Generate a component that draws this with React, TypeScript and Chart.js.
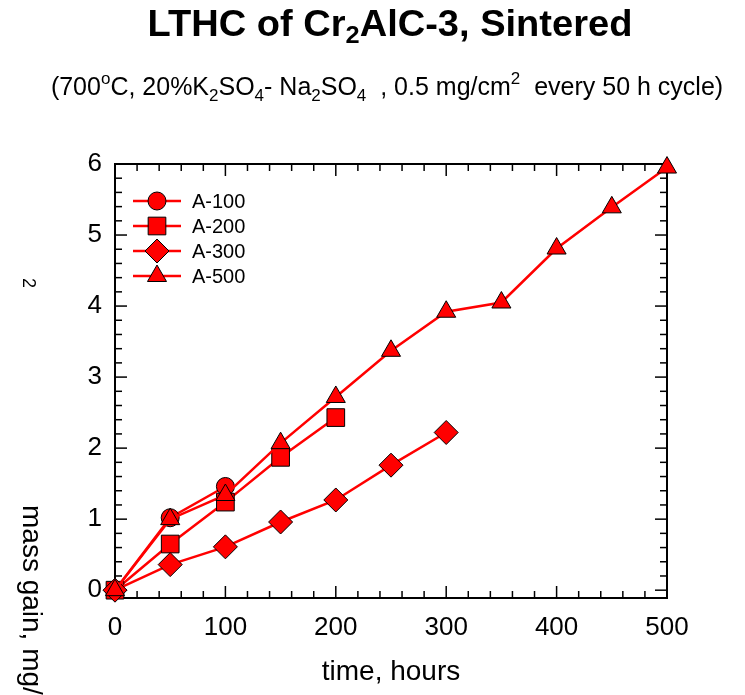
import React, { useEffect, useRef } from 'react';
import { Chart, registerables } from 'chart.js';

Chart.register(...registerables);

// ---- data ----
const seriesLabels = ['A-100', 'A-200', 'A-300', 'A-500'];
const timeA100 = [0, 50, 100];
const massA100 = [0, 1.02, 1.46];
const timeA200 = [0, 50, 100, 150, 200];
const massA200 = [0, 0.65, 1.24, 1.87, 2.43];
const timeA300 = [0, 50, 100, 150, 200, 250, 300];
const massA300 = [0, 0.36, 0.61, 0.96, 1.27, 1.76, 2.22];
const timeA500 = [0, 50, 100, 150, 200, 250, 300, 350, 400, 450, 500];
const massA500 = [0, 1.0, 1.34, 2.07, 2.72, 3.37, 3.92, 4.05, 4.81, 5.39, 5.95];
const xTicks = [0, 100, 200, 300, 400, 500];
const yTicks = [0, 1, 2, 3, 4, 5, 6];
const xMinorStep = 20;
const yMinorStep = 0.2;

const FONT = '"Liberation Sans", Arial, Helvetica, sans-serif';

type Seg = { t: string; s?: 'sub' | 'sup' };

function drawRich(
  ctx: CanvasRenderingContext2D,
  segs: Seg[],
  cx: number,
  baseline: number,
  size: number,
  smallSize: number,
  weight: string,
  subDy: number,
  supDy: number,
  sx: number
) {
  const fontOf = (s?: string) => `${weight} ${s ? smallSize : size}px ${FONT}`;
  let total = 0;
  for (const g of segs) {
    ctx.font = fontOf(g.s);
    total += ctx.measureText(g.t).width;
  }
  ctx.save();
  ctx.translate(cx, baseline);
  ctx.scale(sx, 1);
  let x = -total / 2;
  ctx.textBaseline = 'alphabetic';
  ctx.textAlign = 'left';
  for (const g of segs) {
    ctx.font = fontOf(g.s);
    const dy = g.s === 'sub' ? subDy : g.s === 'sup' ? -supDy : 0;
    ctx.fillText(g.t, x, dy);
    x += ctx.measureText(g.t).width;
  }
  ctx.restore();
}

const titleSegs: Seg[] = [{ t: 'LTHC of Cr' }, { t: '2', s: 'sub' }, { t: 'AlC-3, Sintered' }];
const subtitleSegs: Seg[] = [
  { t: '(700' }, { t: 'o', s: 'sup' }, { t: 'C, 20%K' }, { t: '2', s: 'sub' }, { t: 'SO' }, { t: '4', s: 'sub' },
  { t: '- Na' }, { t: '2', s: 'sub' }, { t: 'SO' }, { t: '4', s: 'sub' }, { t: '  , 0.5 mg/cm' }, { t: '2', s: 'sup' },
  { t: '  every 50 h cycle)' },
];

function drawMarker(ctx: CanvasRenderingContext2D, style: string, r: number, x: number, y: number) {
  ctx.beginPath();
  if (style === 'circle') {
    ctx.arc(x, y, r, 0, Math.PI * 2);
  } else if (style === 'rect') {
    const s = Math.SQRT1_2 * r;
    ctx.rect(x - s, y - s, 2 * s, 2 * s);
  } else if (style === 'rectRot') {
    ctx.moveTo(x, y - r);
    ctx.lineTo(x + r, y);
    ctx.lineTo(x, y + r);
    ctx.lineTo(x - r, y);
    ctx.closePath();
  } else if (style === 'triangle') {
    ctx.moveTo(x, y - r);
    ctx.lineTo(x + r * Math.cos(Math.PI / 6), y + r / 2);
    ctx.lineTo(x - r * Math.cos(Math.PI / 6), y + r / 2);
    ctx.closePath();
  }
  ctx.fill();
  ctx.stroke();
}

const framePlugin = {
  id: 'frameTicks',
  beforeDatasetsDraw(chart: any) {
    const { ctx, chartArea: a, scales } = chart;
    const xs = scales.x;
    const ys = scales.y;
    ctx.save();
    ctx.strokeStyle = '#000';
    ctx.lineWidth = 1.5;
    const line = (x1: number, y1: number, x2: number, y2: number) => {
      ctx.beginPath();
      ctx.moveTo(x1, y1);
      ctx.lineTo(x2, y2);
      ctx.stroke();
    };
    const nx = Math.round((xs.max - xs.min) / xMinorStep);
    for (let i = 0; i <= nx; i++) {
      const v = xs.min + i * xMinorStep;
      const px = xs.getPixelForValue(v);
      const len = xTicks.includes(Math.round(v)) ? 12 : 7;
      line(px, a.bottom, px, a.bottom - len);
      line(px, a.top, px, a.top + len);
    }
    const ny = Math.round(6 / yMinorStep);
    for (let i = 0; i <= ny; i++) {
      const v = i * yMinorStep;
      const py = ys.getPixelForValue(v);
      const len = i % 5 === 0 ? 12 : 7;
      line(a.left, py, a.left + len, py);
      line(a.right, py, a.right - len, py);
    }
    ctx.lineWidth = 2;
    ctx.strokeRect(a.left, a.top, a.right - a.left, a.bottom - a.top);
    ctx.restore();
  },
  afterDraw(chart: any) {
    const { ctx, chartArea: a } = chart;
    ctx.save();
    ctx.fillStyle = '#000';
    drawRich(ctx, titleSegs, 390, 36, 36, 24, 'bold', 7, 0, 1.057);
    drawRich(ctx, subtitleSegs, 387, 95, 25, 17, 'normal', 6, 11, 1.0);

    // x axis title
    ctx.font = `28px ${FONT}`;
    ctx.textAlign = 'center';
    ctx.textBaseline = 'middle';
    ctx.fillText('time, hours', (a.left + a.right) / 2, 672);

    // y axis title (rotated, reading downward)
    ctx.save();
    ctx.translate(31, 505);
    ctx.rotate(Math.PI / 2);
    ctx.textAlign = 'left';
    ctx.textBaseline = 'middle';
    ctx.font = `28px ${FONT}`;
    ctx.fillText('mass gain, mg/cm', 0, 0);
    ctx.restore();
    ctx.save();
    ctx.translate(28, 283);
    ctx.rotate(Math.PI / 2);
    ctx.textAlign = 'center';
    ctx.textBaseline = 'middle';
    ctx.font = `18px ${FONT}`;
    ctx.fillText('2', 0, 0);
    ctx.restore();

    // legend
    const ds = chart.data.datasets;
    ctx.font = `20px ${FONT}`;
    ctx.textAlign = 'left';
    ctx.textBaseline = 'middle';
    for (let i = 0; i < ds.length; i++) {
      const y = a.top + 37 + i * 25;
      ctx.strokeStyle = ds[i].borderColor;
      ctx.lineWidth = ds[i].borderWidth;
      ctx.beginPath();
      ctx.moveTo(a.left + 18, y);
      ctx.lineTo(a.left + 66, y);
      ctx.stroke();
      ctx.fillStyle = ds[i].pointBackgroundColor;
      ctx.strokeStyle = ds[i].pointBorderColor;
      ctx.lineWidth = ds[i].pointBorderWidth;
      drawMarker(ctx, ds[i].pointStyle, ds[i].pointRadius, a.left + 42, y);
      ctx.fillStyle = '#000';
      ctx.fillText(ds[i].label, a.left + 77, y + 1);
    }
    ctx.restore();
  },
};

function mk(label: string, xs: number[], ys: number[], style: string, r: number, order: number) {
  return {
    label,
    data: xs.map((x, i) => ({ x, y: ys[i] })),
    borderColor: '#ff0000',
    borderWidth: 2.5,
    backgroundColor: '#ff0000',
    pointBackgroundColor: '#ff0000',
    pointBorderColor: '#000000',
    pointBorderWidth: 1,
    pointStyle: style,
    pointRadius: r,
    pointHoverRadius: r,
    tension: 0,
    fill: false,
    clip: false,
    order,
  };
}

export default function App() {
  const ref = useRef<HTMLCanvasElement>(null);
  useEffect(() => {
    document.body.style.margin = '0';
    const canvas = ref.current!;
    const chart = new Chart(canvas, {
      type: 'line',
      data: {
        datasets: [
          mk(seriesLabels[0], timeA100, massA100, 'circle', 9, 4),
          mk(seriesLabels[1], timeA200, massA200, 'rect', 12.5, 3),
          mk(seriesLabels[2], timeA300, massA300, 'rectRot', 12, 2),
          mk(seriesLabels[3], timeA500, massA500, 'triangle', 11, 1),
        ] as any,
      },
      options: {
        animation: false,
        responsive: false,
        events: [],
        layout: { padding: { top: 164, right: 78, bottom: 0, left: 0 } },
        plugins: { legend: { display: false }, title: { display: false }, tooltip: { enabled: false } },
        scales: {
          x: {
            type: 'linear',
            min: 0,
            max: 500,
            grid: { display: false, drawTicks: false },
            border: { display: false },
            ticks: { font: { size: 26, family: FONT }, color: '#000', padding: 14, maxRotation: 0 },
            afterBuildTicks: (s: any) => { s.ticks = xTicks.map((v) => ({ value: v })); },
            afterFit: (s: any) => { s.height = 97; },
          },
          y: {
            type: 'linear',
            min: -0.11,
            max: 6,
            grid: { display: false, drawTicks: false },
            border: { display: false },
            ticks: { font: { size: 26, family: FONT }, color: '#000', padding: 13 },
            afterBuildTicks: (s: any) => { s.ticks = yTicks.map((v) => ({ value: v })); },
            afterFit: (s: any) => { s.width = 115; },
          },
        },
      } as any,
      plugins: [framePlugin],
    });
    return () => chart.destroy();
  }, []);
  return (
    <div style={{ width: 745, height: 695, background: '#fff' }}>
      <canvas ref={ref} width={745} height={695} style={{ display: 'block' }} />
    </div>
  );
}
